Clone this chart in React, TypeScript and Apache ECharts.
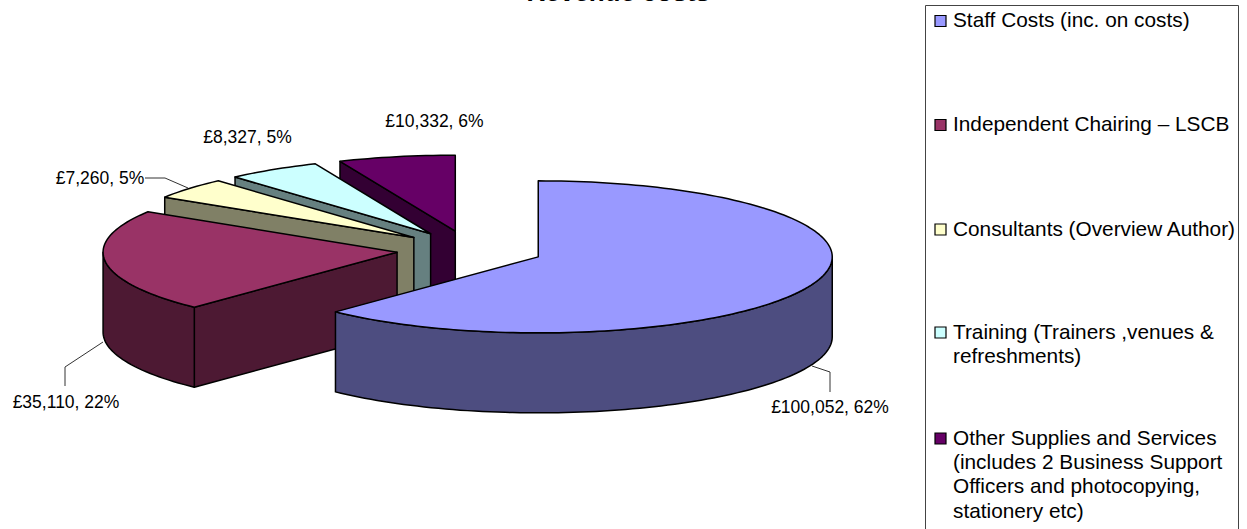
import React, { useEffect, useRef } from "react";
import * as echarts from "echarts";

const categories = [
  "Staff Costs (inc. on costs)",
  "Independent Chairing – LSCB",
  "Consultants (Overview Author)",
  "Training (Trainers ,venues &\nrefreshments)",
  "Other Supplies and Services\n(includes 2 Business Support\nOfficers and photocopying,\nstationery etc)",
];
const costs = [100052, 35110, 7260, 8327, 10332];
const topColours = ["#9999FF", "#993366", "#FFFFCC", "#CCFFFF", "#660066"];
const sideColours = ["#4D4D80", "#4D1933", "#808066", "#668080", "#330033"];
const chartTitle = "Revenue costs";

const FONT = '"Liberation Sans", Arial, sans-serif';
const WIDTH = 1247;
const HEIGHT = 529;

// Tilted pie geometry: ellipse radii, extrusion depth and slice explosion.
const CX = 470;
const CY = 249.8;
const RX = 294;
const RY = 76;
const DEPTH = 80;
const EXPLODE = 0.25;
const OUTLINE = 1.5;

const total = costs.reduce((a, b) => a + b, 0);
const rad = (deg: number) => (deg * Math.PI) / 180;

// Slices run clockwise from twelve o'clock.
const spans = costs.map((v, i) => {
  const before = costs.slice(0, i).reduce((a, b) => a + b, 0);
  return { start: (before / total) * 360, end: ((before + v) / total) * 360 };
});

function arcPoints(ax: number, ay: number, a0: number, a1: number, dy = 0) {
  const steps = Math.max(2, Math.ceil(Math.abs(a1 - a0) / 1.5));
  const pts: number[][] = [];
  for (let k = 0; k <= steps; k++) {
    const t = rad(a0 + ((a1 - a0) * k) / steps);
    pts.push([ax + RX * Math.sin(t), ay - RY * Math.cos(t) + dy]);
  }
  return pts;
}

function renderSlice(_params: unknown, api: any) {
  const i = api.value(0);
  const { start, end } = spans[i];
  const mid = rad((start + end) / 2);
  const ax = CX + EXPLODE * RX * Math.sin(mid);
  const ay = CY - EXPLODE * RY * Math.cos(mid);
  const faceStyle = (fill: string) => ({
    fill,
    stroke: "#000",
    lineWidth: OUTLINE,
    lineJoin: "round",
  });
  const children: any[] = [];

  // The cut face on the leading edge faces the viewer when it lies left of centre.
  if (Math.sin(rad(start)) < -1e-6) {
    const [p] = arcPoints(ax, ay, start, start);
    children.push({
      type: "polygon",
      shape: {
        points: [
          [ax, ay],
          p,
          [p[0], p[1] + DEPTH],
          [ax, ay + DEPTH],
        ],
      },
      style: faceStyle(sideColours[i]),
    });
  }

  // Outer wall: only the front half of the rim is visible.
  const w0 = Math.max(start, 90);
  const w1 = Math.min(end, 270);
  if (w1 > w0) {
    children.push({
      type: "polygon",
      shape: {
        points: [
          ...arcPoints(ax, ay, w0, w1),
          ...arcPoints(ax, ay, w0, w1, DEPTH).reverse(),
        ],
      },
      style: faceStyle(sideColours[i]),
    });
  }

  children.push({
    type: "polygon",
    shape: { points: [[ax, ay], ...arcPoints(ax, ay, start, end)] },
    style: faceStyle(topColours[i]),
  });
  return { type: "group", children };
}

const money = (v: number) =>
  `£${v.toLocaleString("en-GB")}, ${Math.round((v / total) * 100)}%`;

// Callout placement for each slice, in legend order.
const callouts = [
  { x: 830, y: 407, leader: [[812, 366], [830, 372], [830, 392]] },
  { x: 66, y: 402, leader: [[103, 342], [65, 367], [65, 386]] },
  { x: 100, y: 178, leader: [[145, 178], [165, 178], [188, 188]] },
  { x: 247.5, y: 137, leader: null },
  { x: 434.5, y: 121, leader: null },
];

// Vertical centre of the first line of each legend entry.
const legendRows = [19.5, 123.5, 228, 331, 437];

function buildGraphics() {
  const els: any[] = [
    {
      type: "text",
      x: 710,
      y: 4.5,
      style: {
        text: chartTitle,
        font: `bold 26px ${FONT}`,
        fill: "#000",
        textAlign: "right",
        textVerticalAlign: "bottom",
      },
    },
    {
      type: "rect",
      shape: { x: 925.5, y: 5.5, width: 313, height: 560 },
      style: { fill: "#fff", stroke: "#444", lineWidth: 1 },
    },
  ];
  categories.forEach((name, i) => {
    els.push({
      type: "rect",
      shape: { x: 935, y: legendRows[i] - 4, width: 11, height: 11 },
      style: { fill: topColours[i], stroke: "#000", lineWidth: 1.2 },
      z: 5,
    });
    const lines = name.split("\n");
    lines.forEach((line, k) => {
      els.push({
        type: "text",
        x: 953,
        y: legendRows[i] + k * 24.4,
        style: {
          text: line,
          font: `20.8px ${FONT}`,
          fill: "#000",
          textAlign: "left",
          textVerticalAlign: "middle",
        },
        z: 5,
      });
    });
  });
  costs.forEach((v, i) => {
    const c = callouts[i];
    els.push({
      type: "text",
      x: c.x,
      y: c.y,
      style: {
        text: money(v),
        font: `17.5px ${FONT}`,
        fill: "#000",
        textAlign: "center",
        textVerticalAlign: "middle",
      },
      z: 5,
    });
    if (c.leader) {
      els.push({
        type: "polyline",
        shape: { points: c.leader },
        style: { fill: "none", stroke: "#333", lineWidth: 1 },
        z: 5,
      });
    }
  });
  return els;
}

export default function App() {
  const ref = useRef<HTMLDivElement>(null);
  useEffect(() => {
    document.body.style.margin = "0";
    const chart = echarts.init(ref.current!, undefined, { renderer: "svg" });
    chart.setOption({
      animation: false,
      backgroundColor: "#fff",
      graphic: { elements: buildGraphics() },
      series: [
        {
          type: "custom",
          coordinateSystem: "none",
          silent: true,
          renderItem: renderSlice,
          // Painted back to front, so the largest slice ends up on top.
          data: costs.map((v, i) => [i, v]).reverse(),
        },
      ],
    });
    return () => chart.dispose();
  }, []);
  return <div ref={ref} style={{ width: WIDTH, height: HEIGHT, overflow: "hidden" }} />;
}
